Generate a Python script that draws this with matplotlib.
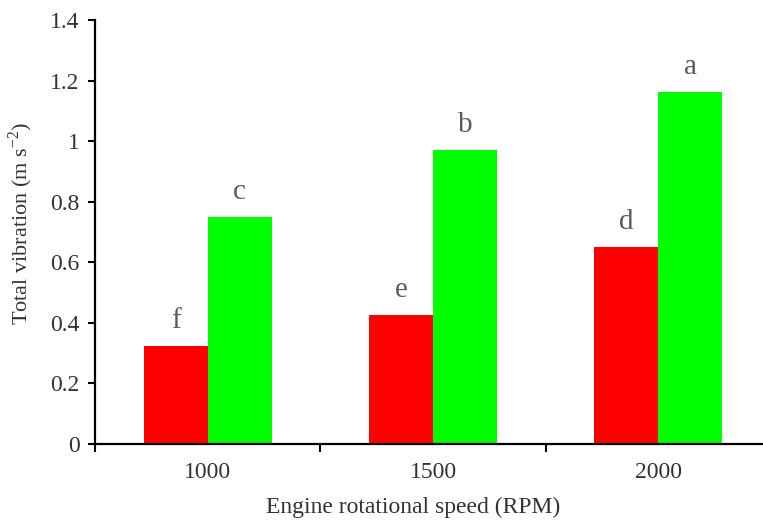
import matplotlib

matplotlib.use("Agg")
import matplotlib.pyplot as plt
import numpy as np

# data
speeds = ["1000", "1500", "2000"]
red_vals = [0.325, 0.427, 0.650]
green_vals = [0.748, 0.970, 1.163]
red_letters = ["f", "e", "d"]
green_letters = ["c", "b", "a"]
y_ticks = [0, 0.2, 0.4, 0.6, 0.8, 1.0, 1.2, 1.4]
y_tick_labels = ["0", "0.2", "0.4", "0.6", "0.8", "1", "1.2", "1.4"]

plt.rcParams["font.family"] = ["Liberation Serif", "DejaVu Serif"]
plt.rcParams["mathtext.fontset"] = "custom"
plt.rcParams["mathtext.rm"] = "Liberation Serif"

TEXT = "#333333"
LETTER = "#5a5a5a"

fig = plt.figure(figsize=(7.63, 5.23), dpi=100, facecolor="white")
ax = fig.add_axes([0.1245, 0.151, 0.886, 0.8107])

x = np.arange(len(speeds))
w = 0.284
bars_r = ax.bar(x - w / 2, red_vals, width=w, color="#ff0000", linewidth=0)
bars_g = ax.bar(x + w / 2, green_vals, width=w, color="#00ff00", linewidth=0)

for bars, letters in ((bars_r, red_letters), (bars_g, green_letters)):
    for b, lab in zip(bars, letters):
        ax.annotate(
            lab,
            (b.get_x() + b.get_width() / 2, b.get_height()),
            xytext=(0, 13),
            textcoords="offset points",
            ha="center",
            va="baseline",
            fontsize=21,
            color=LETTER,
        )

ax.set_xlim(-0.5, 2.5)
ax.set_ylim(0, 1.4)
ax.set_yticks(y_ticks)
ax.set_yticklabels(y_tick_labels)

# boundary ticks between groups, labels centred under groups
ax.set_xticks([-0.5, 0.5, 1.5, 2.5])
ax.set_xticklabels([])
ax.set_xticks(x, minor=True)
ax.set_xticklabels(speeds, minor=True)
ax.tick_params(axis="x", which="minor", length=0, pad=13, labelsize=17, labelcolor=TEXT)
ax.tick_params(axis="x", which="major", length=6, width=1.5, direction="out")
ax.tick_params(axis="y", length=5, width=1.5, direction="out", pad=6, labelsize=17, labelcolor=TEXT)

for s in ("top", "right"):
    ax.spines[s].set_visible(False)
for s in ("left", "bottom"):
    ax.spines[s].set_linewidth(1.6)

ax.set_xlabel("Engine rotational speed (RPM)", fontsize=17, color=TEXT)
ax.xaxis.set_label_coords(0.47, -0.125)
ax.set_ylabel(r"Total vibration (m s$^{\mathregular{-2}}$)", fontsize=16, color=TEXT)
ax.yaxis.set_label_coords(-0.089, 0.52)

fig.savefig("out.png", dpi=100, facecolor="white")
